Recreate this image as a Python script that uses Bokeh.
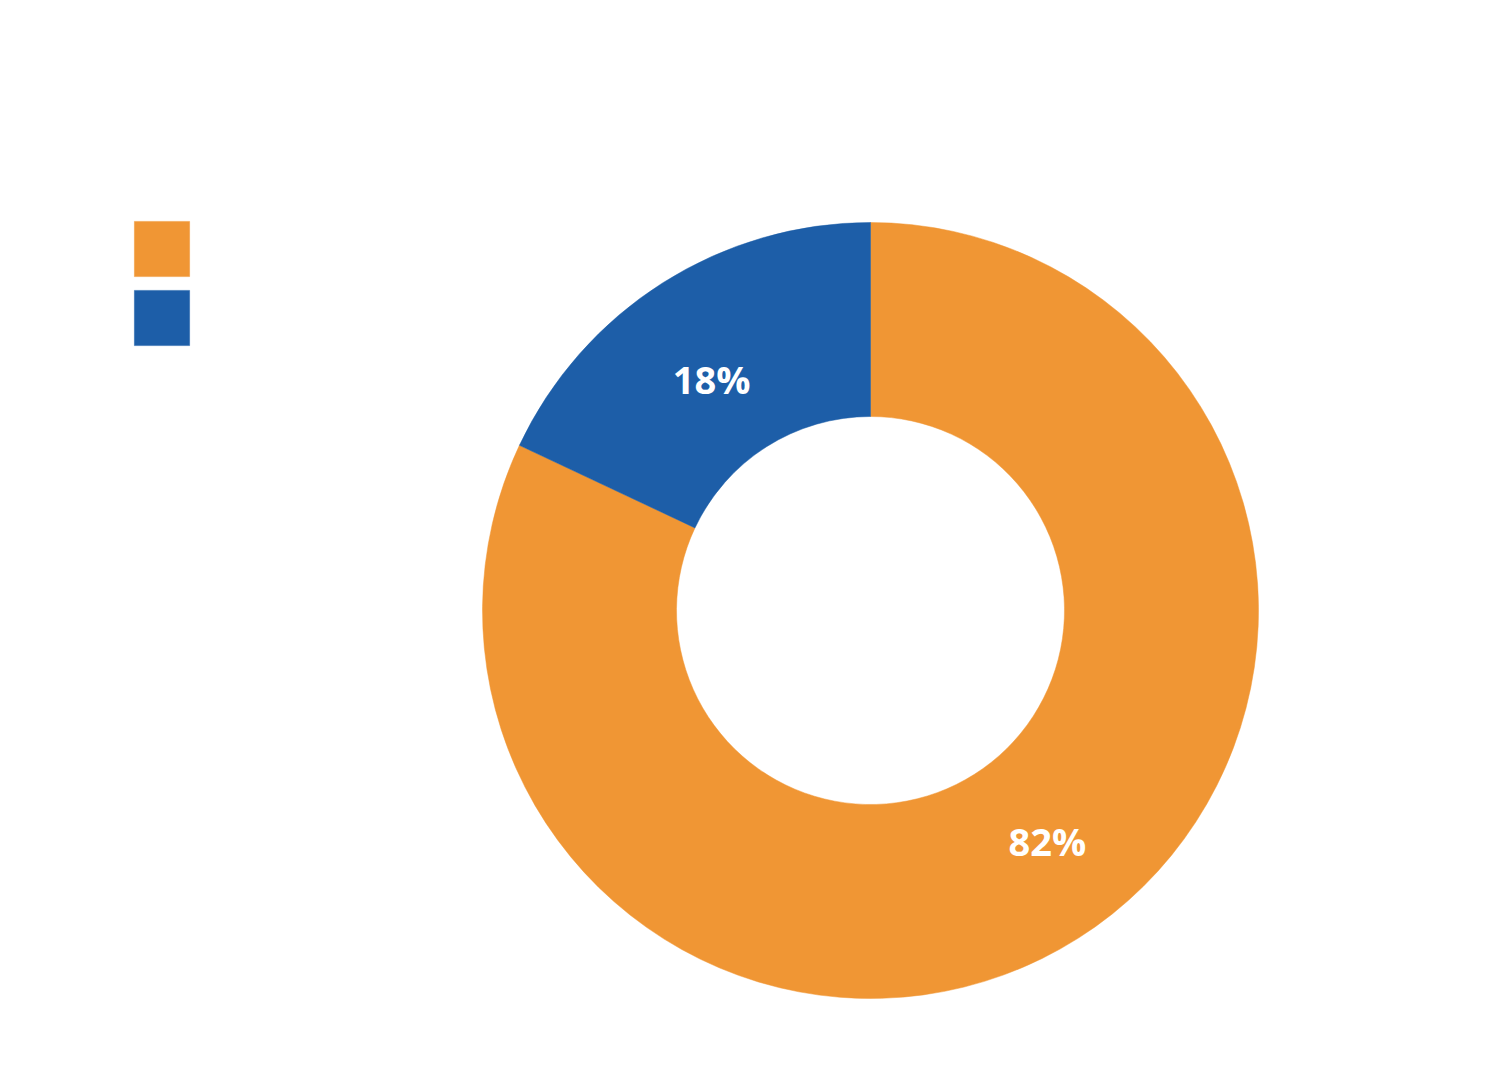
import math
from bokeh.plotting import figure
from bokeh.models import ColumnDataSource, Legend, LegendItem, Range1d
from bokeh.core.properties import value
from bokeh.embed import file_html
from bokeh.resources import INLINE

categories = ["A", "B"]
shares = [82, 18]
labels = ["82%", "18%"]
colors = ["#F09634", "#1D5EA8"]

W, H = 1484, 1064
cx, cy = 870, H - 610
r_out, r_in = 388, 194

# label nudges (screen px), style only
label_dx = [21, -3]
label_dy = [-15, 14]

total = sum(shares)
starts, ends = [], []
a = math.pi / 2
for s in shares:
    sweep = 2 * math.pi * s / total
    starts.append(a - sweep)
    ends.append(a)
    a -= sweep
mid = [(s + e) / 2 for s, e in zip(starts, ends)]
r_lab = (r_out + r_in) / 2
lx = [cx + r_lab * math.cos(m) for m in mid]
ly = [cy + r_lab * math.sin(m) for m in mid]

src = ColumnDataSource(dict(cat=categories, start=starts, end=ends, color=colors,
                            lx=lx, ly=ly, label=labels, dx=label_dx, dy=label_dy))

p = figure(width=W, height=H, output_backend="svg", toolbar_location=None,
           x_range=Range1d(0, W), y_range=Range1d(0, H), min_border=0)
p.axis.visible = False
p.grid.visible = False
p.outline_line_color = None
p.background_fill_color = "white"

renderer = p.annular_wedge(x=cx, y=cy, inner_radius=r_in, outer_radius=r_out,
                           start_angle="start", end_angle="end", fill_color="color",
                           line_color="color", line_width=0.5, source=src)

p.text(x="lx", y="ly", text="label", source=src, text_color="white",
       x_offset="dx", y_offset="dy",
       text_font=value("Open Sans"), text_font_style="bold", text_font_size="38px",
       text_align="center", text_baseline="middle")

items = [LegendItem(label=" ", renderers=[renderer], index=i) for i in range(len(categories))]
legend = Legend(items=items, location=(127, H - 352), glyph_width=69, glyph_height=69,
                spacing=-1, padding=0, margin=0, border_line_color=None,
                background_fill_alpha=0, label_text_font_size="1px", label_width=0,
                label_standoff=0)
p.add_layout(legend, "center")

open("out.html", "w").write(file_html(p, INLINE))
